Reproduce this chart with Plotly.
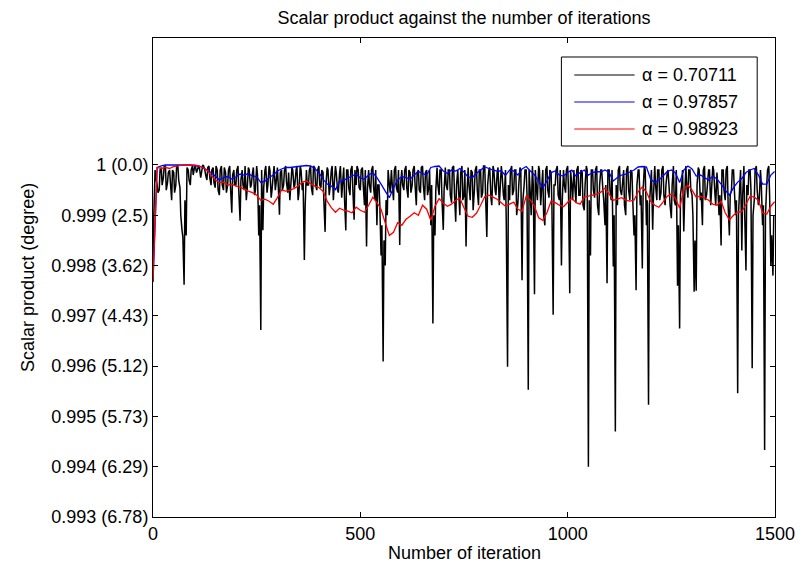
import plotly.graph_objects as go

# ---- data ----
series_names = ["α = 0.70711", "α = 0.97857", "α = 0.98923"]
series_colors = ["#000000", "#0000FF", "#FF0000"]

# alpha = 0.70711 at iterations 0, 5, 10, ...
black_vals = [
    0.99768, 0.99990, 0.99960, 0.99950, 0.99995, 0.99975, 0.99998, 0.99965, 0.99990, 0.99930,
    0.99985, 0.99960, 0.99998, 0.99955, 0.99870, 0.99762, 0.99860, 0.99990, 0.99960, 0.99998,
    0.99995, 0.99985, 0.99998, 0.99975, 1.00000, 0.99990, 0.99970, 0.99998, 0.99960, 0.99995,
    0.99955, 0.99990, 0.99940, 0.99998, 0.99950, 0.99985, 0.99960, 0.99998, 0.99905, 0.99990,
    0.99960, 0.99998, 0.99889, 0.99990, 0.99950, 0.99930, 0.99995, 0.99955, 0.99985, 0.99940,
    0.99998, 0.99860, 0.99672, 0.99870, 0.99990, 0.99945, 0.99998, 0.99935, 0.99980, 0.99950,
    0.99995, 0.99901, 0.99990, 0.99960, 0.99998, 0.99945, 0.99930, 0.99995, 0.99955, 0.99990,
    0.99930, 0.99998, 0.99950, 0.99811, 0.99990, 0.99960, 0.99998, 0.99940, 0.99995, 0.99950,
    0.99998, 0.99955, 0.99985, 0.99867, 0.99995, 0.99940, 0.99990, 0.99930, 0.99998, 0.99950,
    0.99985, 0.99935, 0.99995, 0.99870, 0.99990, 0.99940, 0.99998, 0.99891, 0.99960, 0.99990,
    0.99950, 0.99995, 0.99920, 0.99838, 0.99990, 0.99945, 0.99998, 0.99930, 0.99880, 0.99960,
    0.99820, 0.99609, 0.99800, 0.99900, 0.99960, 0.99990, 0.99930, 0.99998, 0.99945, 0.99841,
    0.99990, 0.99950, 0.99998, 0.99935, 0.99985, 0.99960, 0.99998, 0.99920, 0.99990, 0.99945,
    0.99998, 0.99930, 0.99990, 0.99955, 0.99880, 0.99685, 0.99860, 0.99995, 0.99940, 0.99990,
    0.99871, 0.99995, 0.99950, 0.99990, 0.99925, 0.99998, 0.99887, 0.99990, 0.99900, 0.99998,
    0.99940, 0.99838, 0.99995, 0.99930, 0.99985, 0.99950, 0.99998, 0.99920, 0.99990, 0.99945,
    0.99998, 0.99857, 0.99990, 0.99935, 0.99998, 0.99950, 0.99985, 0.99920, 0.99998, 0.99940,
    0.99990, 0.99599, 0.99930, 0.99998, 0.99950, 0.99990, 0.99925, 0.99995, 0.99771, 0.99960,
    0.99990, 0.99553, 0.99940, 0.99998, 0.99743, 0.99950, 0.99998, 0.99920, 0.99990, 0.99880,
    0.99998, 0.99935, 0.99985, 0.99702, 0.99960, 0.99998, 0.99930, 0.99800, 0.99990, 0.99945,
    0.99998, 0.99745, 0.99960, 0.99990, 0.99925, 0.99998, 0.99940, 0.99985, 0.99910, 0.99998,
    0.99400, 0.99820, 0.99990, 0.99935, 0.99998, 0.99900, 0.99990, 0.99950, 0.99880, 0.99765,
    0.99990, 0.99930, 0.99798, 0.99470, 0.99920, 0.99998, 0.99940, 0.99990, 0.99900, 0.99998,
    0.99930, 0.99985, 0.99860, 0.99751, 0.99990, 0.99920, 0.99794, 0.99998, 0.99880, 0.99523,
    0.99960, 0.99871, 0.99998, 0.99930, 0.99990, 0.99945, 0.99998, 0.99920, 0.99985, 0.99950,
    0.99894, 0.99998, 0.99920, 0.99760, 0.99675, 0.99960, 0.99868, 0.99998, 0.99935, 0.99990,
    0.99940, 0.99748, 0.99750, 0.99995, 0.99930, 0.99880, 0.99998, 0.99940, 0.99990, 0.99920,
    0.99998, 0.99945, 0.99985, 0.99900, 0.99840, 0.99990, 0.99930, 0.99998, 0.99860, 0.99950,
    0.99990, 0.99900, 0.99546, 0.99960, 0.99830, 0.99998, 0.99790, 0.99940, 0.99990, 0.99596,
    0.99930, 0.99998, 0.99920, 0.99990, 0.99880, 0.99433, 0.99960, 0.99998, 0.99801, 0.99780,
]

# alpha = 0.70711 at iterations 2, 7, 12, ...
black_mid_vals = [
    0.99900, 0.99975, 0.99945, 0.99990, 0.99960, 0.99998, 0.99950, 0.99985, 0.99965, 0.99990,
    0.99945, 0.99998, 0.99970, 0.99900, 0.99857, 0.99930, 0.99995, 0.99970, 0.99990, 0.99980,
    0.99998, 0.99990, 0.99995, 0.99985, 0.99998, 0.99980, 0.99995, 0.99975, 0.99990, 0.99965,
    0.99998, 0.99950, 0.99990, 0.99960, 0.99995, 0.99945, 0.99990, 0.99955, 0.99980, 0.99960,
    0.99990, 0.99945, 0.99970, 0.99960, 0.99998, 0.99950, 0.99990, 0.99960, 0.99995, 0.99950,
    0.99980, 0.99920, 0.99990, 0.99955, 0.99998, 0.99960, 0.99990, 0.99950, 0.99998, 0.99965,
    0.99960, 0.99985, 0.99950, 0.99990, 0.99965, 0.99985, 0.99955, 0.99990, 0.99960, 0.99998,
    0.99945, 0.99990, 0.99965, 0.99920, 0.99960, 0.99990, 0.99955, 0.99998, 0.99960, 0.99990,
    0.99960, 0.99990, 0.99930, 0.99960, 0.99990, 0.99955, 0.99998, 0.99960, 0.99985, 0.99945,
    0.99998, 0.99960, 0.99930, 0.99990, 0.99955, 0.99990, 0.99950, 0.99990, 0.99998, 0.99955,
    0.99990, 0.99960, 0.99990, 0.99950, 0.99960, 0.99990, 0.99955, 0.99990, 0.99960, 0.99920,
    0.99880, 0.99850, 0.99930, 0.99990, 0.99945, 0.99960, 0.99990, 0.99955, 0.99990, 0.99960,
    0.99960, 0.99990, 0.99955, 0.99990, 0.99945, 0.99990, 0.99960, 0.99985, 0.99950, 0.99995,
    0.99960, 0.99985, 0.99940, 0.99990, 0.99960, 0.99900, 0.99950, 0.99960, 0.99990, 0.99930,
    0.99950, 0.99960, 0.99990, 0.99940, 0.99995, 0.99945, 0.99960, 0.99950, 0.99985, 0.99930,
    0.99990, 0.99940, 0.99960, 0.99990, 0.99910, 0.99990, 0.99950, 0.99990, 0.99935, 0.99998,
    0.99940, 0.99960, 0.99995, 0.99920, 0.99990, 0.99940, 0.99995, 0.99950, 0.99980, 0.99930,
    0.99880, 0.99960, 0.99990, 0.99940, 0.99990, 0.99900, 0.99960, 0.99990, 0.99930, 0.99990,
    0.99940, 0.99990, 0.99900, 0.99960, 0.99990, 0.99930, 0.99990, 0.99950, 0.99900, 0.99990,
    0.99950, 0.99990, 0.99920, 0.99960, 0.99990, 0.99940, 0.99990, 0.99930, 0.99960, 0.99990,
    0.99950, 0.99990, 0.99930, 0.99960, 0.99990, 0.99940, 0.99990, 0.99920, 0.99960, 0.99990,
    0.99930, 0.99990, 0.99950, 0.99990, 0.99920, 0.99960, 0.99990, 0.99930, 0.99960, 0.99990,
    0.99950, 0.99990, 0.99900, 0.99960, 0.99990, 0.99950, 0.99960, 0.99920, 0.99990, 0.99950,
    0.99990, 0.99930, 0.99900, 0.99960, 0.99990, 0.99940, 0.99950, 0.99990, 0.99930, 0.99920,
    0.99990, 0.99940, 0.99960, 0.99990, 0.99930, 0.99990, 0.99940, 0.99960, 0.99990, 0.99920,
    0.99960, 0.99930, 0.99990, 0.99880, 0.99940, 0.99990, 0.99930, 0.99960, 0.99990, 0.99950,
    0.99900, 0.99850, 0.99960, 0.99990, 0.99945, 0.99990, 0.99930, 0.99960, 0.99990, 0.99950,
    0.99990, 0.99920, 0.99960, 0.99940, 0.99990, 0.99950, 0.99990, 0.99920, 0.99940, 0.99990,
    0.99950, 0.99930, 0.99900, 0.99990, 0.99940, 0.99900, 0.99960, 0.99990, 0.99950, 0.99900,
    0.99990, 0.99950, 0.99930, 0.99960, 0.99920, 0.99900, 0.99990, 0.99940, 0.99860, 0.99900,
]

# alpha = 0.97857, every 10 iterations (last point at 1499)
blue_vals = [
    0.99768, 0.99995, 0.99998, 1.00000, 1.00000, 1.00000, 1.00000, 1.00000, 1.00000, 1.00000,
    0.99998, 0.99998, 0.99995, 0.99990, 0.99985, 0.99978, 0.99970, 0.99975, 0.99977, 0.99972,
    0.99976, 0.99982, 0.99980, 0.99983, 0.99978, 0.99977, 0.99965, 0.99968, 0.99975, 0.99980,
    0.99988, 0.99992, 0.99995, 0.99995, 0.99996, 0.99997, 0.99998, 0.99999, 0.99998, 0.99993,
    0.99985, 0.99972, 0.99962, 0.99958, 0.99951, 0.99967, 0.99970, 0.99974, 0.99978, 0.99982,
    0.99974, 0.99972, 0.99980, 0.99985, 0.99975, 0.99962, 0.99948, 0.99935, 0.99955, 0.99970,
    0.99977, 0.99975, 0.99972, 0.99980, 0.99987, 0.99983, 0.99980, 0.99995, 0.99997, 0.99998,
    0.99988, 0.99983, 0.99990, 0.99988, 0.99993, 0.99986, 0.99976, 0.99975, 0.99983, 0.99990,
    0.99996, 0.99993, 0.99990, 0.99988, 0.99988, 0.99979, 0.99990, 0.99988, 0.99980, 0.99992,
    0.99997, 0.99988, 0.99980, 0.99968, 0.99955, 0.99968, 0.99985, 0.99988, 0.99980, 0.99978,
    0.99985, 0.99990, 0.99978, 0.99985, 0.99990, 0.99980, 0.99985, 0.99987, 0.99986, 0.99990,
    0.99985, 0.99968, 0.99975, 0.99980, 0.99982, 0.99986, 0.99990, 0.99996, 0.99997, 0.99996,
    0.99972, 0.99965, 0.99970, 0.99978, 0.99987, 0.99990, 0.99984, 0.99965, 0.99990, 0.99998,
    0.99992, 0.99978, 0.99980, 0.99975, 0.99970, 0.99978, 0.99972, 0.99962, 0.99950, 0.99940,
    0.99955, 0.99966, 0.99973, 0.99985, 0.99990, 0.99993, 0.99980, 0.99962, 0.99962, 0.99980,
    0.99987,
]

# alpha = 0.98923, every 10 iterations (last point at 1499)
red_vals = [
    0.99768, 0.99995, 0.99993, 0.99995, 0.99993, 0.99997, 0.99998, 1.00000, 1.00000, 1.00000,
    1.00000, 0.99998, 0.99995, 0.99990, 0.99980, 0.99970, 0.99965, 0.99966, 0.99960, 0.99962,
    0.99958, 0.99956, 0.99952, 0.99948, 0.99945, 0.99940, 0.99930, 0.99932, 0.99928, 0.99922,
    0.99935, 0.99950, 0.99948, 0.99950, 0.99953, 0.99958, 0.99966, 0.99968, 0.99963, 0.99958,
    0.99955, 0.99948, 0.99928, 0.99915, 0.99906, 0.99914, 0.99910, 0.99908, 0.99905, 0.99916,
    0.99910, 0.99906, 0.99920, 0.99936, 0.99925, 0.99912, 0.99885, 0.99860, 0.99866, 0.99885,
    0.99880, 0.99892, 0.99898, 0.99905, 0.99900, 0.99920, 0.99912, 0.99890, 0.99918, 0.99933,
    0.99924, 0.99918, 0.99922, 0.99930, 0.99934, 0.99915, 0.99898, 0.99896, 0.99904, 0.99920,
    0.99937, 0.99940, 0.99936, 0.99932, 0.99925, 0.99918, 0.99922, 0.99926, 0.99912, 0.99908,
    0.99938, 0.99930, 0.99918, 0.99895, 0.99890, 0.99905, 0.99928, 0.99925, 0.99920, 0.99917,
    0.99926, 0.99934, 0.99925, 0.99922, 0.99936, 0.99938, 0.99940, 0.99942, 0.99946, 0.99954,
    0.99942, 0.99930, 0.99932, 0.99935, 0.99930, 0.99928, 0.99930, 0.99947, 0.99956, 0.99946,
    0.99928, 0.99920, 0.99916, 0.99926, 0.99938, 0.99942, 0.99934, 0.99914, 0.99952, 0.99960,
    0.99950, 0.99936, 0.99938, 0.99934, 0.99930, 0.99922, 0.99920, 0.99928, 0.99905, 0.99891,
    0.99900, 0.99906, 0.99907, 0.99922, 0.99938, 0.99936, 0.99930, 0.99905, 0.99902, 0.99918,
    0.99927,
]

x_tick_vals = [0, 500, 1000, 1500]
y_tick_vals = [0.993, 0.994, 0.995, 0.996, 0.997, 0.998, 0.999, 1.0]
y_tick_text = ["0.993 (6.78)", "0.994 (6.29)", "0.995 (5.73)", "0.996 (5.12)",
               "0.997 (4.43)", "0.998 (3.62)", "0.999 (2.5)", "1 (0.0)"]

# merge the two black samplings into one series ordered by iteration
black_pts = sorted([(5 * i, v) for i, v in enumerate(black_vals)] +
                   [(5 * i + 2, v) for i, v in enumerate(black_mid_vals)])
black_iter = [p[0] for p in black_pts]
black_y = [p[1] for p in black_pts]
blue_iter = [min(10 * i, 1499) for i in range(len(blue_vals))]
red_iter = [min(10 * i, 1499) for i in range(len(red_vals))]

FONT = "Liberation Sans, Arial, sans-serif"
FS = 18

fig = go.Figure()
for xs, ys, name, col, w in zip([black_iter, blue_iter, red_iter],
                                [black_y, blue_vals, red_vals],
                                series_names, series_colors, [1.5, 1.3, 1.3]):
    fig.add_trace(go.Scatter(x=xs, y=ys, mode="lines", name=name,
                             line=dict(color=col, width=w, simplify=False),
                             showlegend=False))

W, H = 807, 572
L, R, T, B = 153, 25, 38, 55
pw, ph = W - L - R, H - T - B

def px(x):
    return (x - L) / pw

def py(y):
    return (H - B - y) / ph

shapes = [dict(type="rect", xref="paper", yref="paper",
               x0=px(566), x1=px(764), y0=py(146), y1=py(57),
               line=dict(color="black", width=1), fillcolor="white", layer="above")]
annotations = []
for k, (name, col) in enumerate(zip(series_names, series_colors)):
    yy = py(75 + 27 * k)
    shapes.append(dict(type="line", xref="paper", yref="paper",
                       x0=px(579), x1=px(640), y0=yy, y1=yy,
                       line=dict(color=col, width=1), layer="above"))
    annotations.append(dict(xref="paper", yref="paper", x=px(645), y=yy,
                            text=name, showarrow=False, xanchor="left", yanchor="middle",
                            font=dict(family=FONT, size=FS, color="black")))

annotations.append(dict(xref="paper", yref="paper", x=0.5, y=py(553),
                        text="Number of iteration", showarrow=False,
                        xanchor="center", yanchor="middle",
                        font=dict(family=FONT, size=FS, color="black")))
annotations.append(dict(xref="paper", yref="paper", x=px(26), y=0.5,
                        text="Scalar product (degree)", showarrow=False, textangle=-90,
                        xanchor="center", yanchor="middle",
                        font=dict(family=FONT, size=FS, color="black")))

fig.update_layout(
    width=W, height=H,
    margin=dict(l=L, r=R, t=T, b=B, pad=0),
    paper_bgcolor="white", plot_bgcolor="white",
    font=dict(family=FONT, size=FS, color="black"),
    title=dict(text="Scalar product against the number of iterations",
               x=0.5, xref="paper", xanchor="center",
               y=1 - 18 / H, yref="container", yanchor="middle",
               font=dict(family=FONT, size=FS, color="black")),
    shapes=shapes, annotations=annotations,
    showlegend=False,
)
fig.update_xaxes(range=[0, 1500], tickvals=x_tick_vals, ticks="inside", ticklen=5,
                 tickcolor="black", showline=True, linecolor="black", linewidth=1,
                 mirror="ticks", showgrid=False, zeroline=False,
                 tickfont=dict(family=FONT, size=FS, color="black"))
fig.update_yaxes(range=[0.993, 1.002525], tickvals=y_tick_vals, ticktext=y_tick_text,
                 ticks="inside", ticklen=5, tickcolor="black", showline=True,
                 linecolor="black", linewidth=1, mirror="ticks", showgrid=False,
                 zeroline=False, tickfont=dict(family=FONT, size=FS, color="black"))

fig.write_html("out.html")
